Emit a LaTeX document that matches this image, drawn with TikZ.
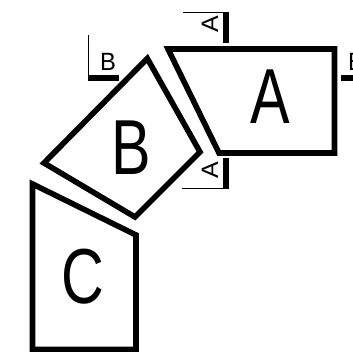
\documentclass[tikz,border=0pt]{standalone}
\usepackage{fontspec}
\setmainfont{Liberation Sans}
\tikzset{
  part/.style={draw=black,line width=5.6pt,line join=miter,miter limit=10},
  thin mark/.style={draw=black,line width=1pt},
  thick mark/.style={draw=black,line width=5.6pt},
  big label/.style={inner sep=0pt,transform shape,xscale=.76,font=\fontsize{78}{78}\selectfont},
  small label/.style={inner sep=0pt,transform shape,xscale=.95,font=\fontsize{25}{25}\selectfont},
}
\begin{document}
\begin{tikzpicture}[x=1pt,y=-1pt]
\useasboundingbox (0,0) rectangle (353,352);
\clip (0,0) rectangle (353,352);
% A
\draw[part] (168,49) -- (334.5,49) -- (334.5,153) -- (219,153) -- cycle;
\node[big label] (la) at (270,97) {A};
% B
\draw[part] (147.3,58.5) -- (200,152) -- (135,217) -- (44,163) -- cycle;
\node[big label] (lb) at (131,147.5) {B};
% C
\draw[part] (32.5,184) -- (136,235) -- (136,349.5) -- (32.5,349.5) -- cycle;
\node[big label] (lc) at (83,277) {C};
% section A-A
\coordinate (a1) at (183,12.5);
\coordinate (a2) at (226,12.5);
\coordinate (a3) at (226,43);
\draw[thin mark] (a1) -- (a2);
\draw[thick mark] (a2 |- 0,12) -- (a3);
\node[small label,rotate=90] (sa1) at (210,24) {A};
\coordinate (a4) at (182,188.5);
\coordinate (a5) at (226,188.5);
\coordinate (a6) at (226,158);
\draw[thin mark] (a4) -- (a5);
\draw[thick mark] (a5 |- 0,189) -- (a6);
\node[small label,rotate=90] (sa2) at (210,170) {A};
% section B-B
\coordinate (b1) at (88,35);
\coordinate (b2) at (88,78);
\coordinate (b3) at (119,78);
\draw[thin mark] (b1) -- (b2);
\draw[thick mark] (b2 -| 87.5,0) -- (b3);
\node[small label] (sb1) at (108,62) {B};
\coordinate (b4) at (341,78);
\coordinate (b5) at (353,78);
\draw[thick mark] (b4) -- (b5);
\node[small label] (sb2) at (356,62) {B};
\end{tikzpicture}
\end{document}
